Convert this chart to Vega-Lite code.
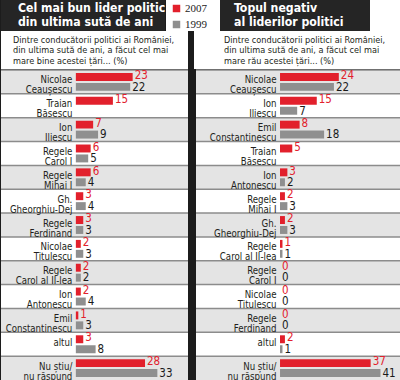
{
  "$schema": "https://vega.github.io/schema/vega-lite/v6.json",
  "background": "#1c1c1c",
  "padding": 0,
  "spacing": 0,
  "config": {
    "view": {"fill": "white", "stroke": null},
    "font": "DejaVu Sans Condensed, sans-serif",
    "concat": {"spacing": 0},
    "title": {"anchor": "start", "orient": "top", "baseline": "top"},
    "legend": {
      "orient": "none", "legendX": 170, "legendY": 3, "title": null, "padding": 0,
      "symbolType": "square", "symbolSize": 56, "symbolStrokeWidth": 0, "symbolOpacity": 1,
      "labelFont": "Liberation Serif", "labelFontSize": 11, "labelColor": "#222", "rowPadding": 4, "labelOffset": 3
    }
  },
  "vconcat": [
    {
      "spacing": 0,
      "hconcat": [
        {
          "width": 164, "height": 31,
          "view": {"fill": "#252525", "stroke": null},
          "data": {"values": [{}]},
          "mark": "text",
          "encoding": {"text": {"value": ""}},
          "title": {"text": ["Cel mai bun lider politic", "din ultima sută de ani"], "color": "white", "fontSize": 12.2, "fontWeight": "bold", "lineHeight": 14, "dx": 17, "offset": -28}
        },
        {
          "width": 54, "height": 31,
          "view": {"fill": "white", "stroke": null},
          "data": {"values": [{}]},
          "mark": "text",
          "encoding": {"text": {"value": ""}}
        },
        {
          "width": 150, "height": 31,
          "view": {"fill": "#252525", "stroke": null},
          "data": {"values": [{}]},
          "mark": "text",
          "encoding": {"text": {"value": ""}},
          "title": {"text": ["Topul negativ", "al liderilor politici"], "color": "white", "fontSize": 12.2, "fontWeight": "bold", "lineHeight": 14, "dx": 14, "offset": -28}
        },
        {
          "width": 32, "height": 31,
          "view": {"fill": "white", "stroke": null},
          "data": {"values": [{}]},
          "mark": "text",
          "encoding": {"text": {"value": ""}}
        }
      ]
    },
    {
      "spacing": 6,
      "hconcat": [
        {
          "width": 187, "height": 38,
          "view": {"fill": "white", "stroke": null},
          "data": {"values": [{}]},
          "mark": "text",
          "encoding": {"text": {"value": ""}},
          "title": {"text": ["Dintre conducătorii politici ai României,", "din ultima sută de ani, a făcut cel mai", "mare bine acestei țări... (%)"], "color": "#231f20", "fontSize": 9.1, "fontWeight": "normal", "lineHeight": 10.5, "dx": 12, "offset": -35}
        },
        {
          "width": 207, "height": 38,
          "view": {"fill": "white", "stroke": null},
          "data": {"values": [{}]},
          "mark": "text",
          "encoding": {"text": {"value": ""}},
          "title": {"text": ["Dintre conducătorii politici ai României,", "din ultima sută de ani, a făcut cel mai", "mare rău acestei țări... (%)"], "color": "#231f20", "fontSize": 9.1, "fontWeight": "normal", "lineHeight": 10.5, "dx": 30, "offset": -35}
        }
      ]
    },
    {
      "spacing": 6,
      "hconcat": [
        {
          "width": 187, "height": 310,
          "view": {"fill": "white", "stroke": null},
          "data": {"values": [
            {"rank": 1, "label": "Nicolae\nCeaușescu", "year": "2007", "value": 23},
            {"rank": 1, "label": "Nicolae\nCeaușescu", "year": "1999", "value": 22},
            {"rank": 2, "label": "Traian\nBăsescu", "year": "2007", "value": 15},
            {"rank": 3, "label": "Ion\nIliescu", "year": "2007", "value": 7},
            {"rank": 3, "label": "Ion\nIliescu", "year": "1999", "value": 9},
            {"rank": 4, "label": "Regele\nCarol I", "year": "2007", "value": 6},
            {"rank": 4, "label": "Regele\nCarol I", "year": "1999", "value": 5},
            {"rank": 5, "label": "Regele\nMihai I", "year": "2007", "value": 6},
            {"rank": 5, "label": "Regele\nMihai I", "year": "1999", "value": 4},
            {"rank": 6, "label": "Gh.\nGheorghiu-Dej", "year": "2007", "value": 3},
            {"rank": 6, "label": "Gh.\nGheorghiu-Dej", "year": "1999", "value": 4},
            {"rank": 7, "label": "Regele\nFerdinand", "year": "2007", "value": 3},
            {"rank": 7, "label": "Regele\nFerdinand", "year": "1999", "value": 3},
            {"rank": 8, "label": "Nicolae\nTitulescu", "year": "2007", "value": 2},
            {"rank": 8, "label": "Nicolae\nTitulescu", "year": "1999", "value": 3},
            {"rank": 9, "label": "Regele\nCarol al II-lea", "year": "2007", "value": 2},
            {"rank": 9, "label": "Regele\nCarol al II-lea", "year": "1999", "value": 2},
            {"rank": 10, "label": "Ion\nAntonescu", "year": "2007", "value": 2},
            {"rank": 10, "label": "Ion\nAntonescu", "year": "1999", "value": 4},
            {"rank": 11, "label": "Emil\nConstantinescu", "year": "2007", "value": 1},
            {"rank": 11, "label": "Emil\nConstantinescu", "year": "1999", "value": 3},
            {"rank": 12, "label": "altul", "year": "2007", "value": 3},
            {"rank": 12, "label": "altul", "year": "1999", "value": 8},
            {"rank": 13, "label": "Nu știu/\nnu răspund", "year": "2007", "value": 28},
            {"rank": 13, "label": "Nu știu/\nnu răspund", "year": "1999", "value": 33}
          ]},
          "encoding": {"y": {"field": "rank", "type": "ordinal", "axis": null, "scale": {"paddingInner": 0, "paddingOuter": 0}}},
          "layer": [
            {
              "transform": [{"filter": "datum.year === '2007'"}],
              "mark": {"type": "rect"},
              "encoding": {"fill": {"condition": {"test": "datum.rank % 2 === 1", "value": "#e4e4e4"}, "value": "#ffffff"}}
            },
            {
              "transform": [{"filter": "datum.year === '2007'"}],
              "mark": {"type": "rule", "color": "#8c8c8c", "strokeWidth": 1.5},
              "encoding": {"y": {"field": "rank", "type": "ordinal", "bandPosition": 0, "axis": null}}
            },
            {
              "mark": {"type": "bar"},
              "encoding": {
                "x": {"field": "value", "type": "quantitative", "stack": null, "axis": null, "scale": {"domain": [-30.3, 45.4], "nice": false}},
                "yOffset": {"field": "year", "type": "nominal", "scale": {"domain": ["2007", "1999"], "paddingInner": 0.2, "paddingOuter": 0.3}},
                "color": {"field": "year", "type": "nominal", "scale": {"domain": ["2007", "1999"], "range": ["#e2202c", "#8f8f8f"]}}
              }
            },
            {
              "transform": [{"filter": "datum.year === '2007'"}],
              "mark": {"type": "text", "align": "left", "baseline": "middle", "dx": 2, "dy": -0.8, "fontSize": 11.5, "color": "#e2202c"},
              "encoding": {
                "x": {"field": "value", "type": "quantitative", "axis": null, "scale": {"domain": [-30.3, 45.4], "nice": false}},
                "yOffset": {"field": "year", "type": "nominal", "scale": {"domain": ["2007", "1999"], "paddingInner": 0.2, "paddingOuter": 0.3}},
                "text": {"field": "value", "type": "quantitative"}
              }
            },
            {
              "transform": [{"filter": "datum.year === '1999'"}],
              "mark": {"type": "text", "align": "left", "baseline": "middle", "dx": 2, "dy": 0.8, "fontSize": 11.5, "color": "#1a1a1a"},
              "encoding": {
                "x": {"field": "value", "type": "quantitative", "axis": null, "scale": {"domain": [-30.3, 45.4], "nice": false}},
                "yOffset": {"field": "year", "type": "nominal", "scale": {"domain": ["2007", "1999"], "paddingInner": 0.2, "paddingOuter": 0.3}},
                "text": {"field": "value", "type": "quantitative"}
              }
            },
            {
              "transform": [{"filter": "datum.year === '2007'"}],
              "mark": {"type": "text", "align": "right", "baseline": "middle", "dx": -3.5, "dy": -1.5, "fontSize": 9.6, "lineBreak": "\n", "lineHeight": 10, "color": "#231f20"},
              "encoding": {
                "x": {"datum": 0, "type": "quantitative", "axis": null, "scale": {"domain": [-30.3, 45.4], "nice": false}},
                "text": {"field": "label"}
              }
            }
          ]
        },
        {
          "width": 207, "height": 310,
          "view": {"fill": "white", "stroke": null},
          "data": {"values": [
            {"rank": 1, "label": "Nicolae\nCeaușescu", "year": "2007", "value": 24},
            {"rank": 1, "label": "Nicolae\nCeaușescu", "year": "1999", "value": 22},
            {"rank": 2, "label": "Ion\nIliescu", "year": "2007", "value": 15},
            {"rank": 2, "label": "Ion\nIliescu", "year": "1999", "value": 7},
            {"rank": 3, "label": "Emil\nConstantinescu", "year": "2007", "value": 8},
            {"rank": 3, "label": "Emil\nConstantinescu", "year": "1999", "value": 18},
            {"rank": 4, "label": "Traian\nBăsescu", "year": "2007", "value": 5},
            {"rank": 5, "label": "Ion\nAntonescu", "year": "2007", "value": 3},
            {"rank": 5, "label": "Ion\nAntonescu", "year": "1999", "value": 2},
            {"rank": 6, "label": "Regele\nMihai I", "year": "2007", "value": 2},
            {"rank": 6, "label": "Regele\nMihai I", "year": "1999", "value": 3},
            {"rank": 7, "label": "Gh.\nGheorghiu-Dej", "year": "2007", "value": 2},
            {"rank": 7, "label": "Gh.\nGheorghiu-Dej", "year": "1999", "value": 3},
            {"rank": 8, "label": "Regele\nCarol al II-lea", "year": "2007", "value": 1},
            {"rank": 8, "label": "Regele\nCarol al II-lea", "year": "1999", "value": 1},
            {"rank": 9, "label": "Regele\nCarol I", "year": "2007", "value": 0},
            {"rank": 9, "label": "Regele\nCarol I", "year": "1999", "value": 0},
            {"rank": 10, "label": "Nicolae\nTitulescu", "year": "2007", "value": 0},
            {"rank": 10, "label": "Nicolae\nTitulescu", "year": "1999", "value": 0},
            {"rank": 11, "label": "Regele\nFerdinand", "year": "2007", "value": 0},
            {"rank": 11, "label": "Regele\nFerdinand", "year": "1999", "value": 0},
            {"rank": 12, "label": "altul", "year": "2007", "value": 2},
            {"rank": 12, "label": "altul", "year": "1999", "value": 1},
            {"rank": 13, "label": "Nu știu/\nnu răspund", "year": "2007", "value": 37},
            {"rank": 13, "label": "Nu știu/\nnu răspund", "year": "1999", "value": 41}
          ]},
          "encoding": {"y": {"field": "rank", "type": "ordinal", "axis": null, "scale": {"paddingInner": 0, "paddingOuter": 0}}},
          "layer": [
            {
              "transform": [{"filter": "datum.year === '2007'"}],
              "mark": {"type": "rect"},
              "encoding": {"fill": {"condition": {"test": "datum.rank % 2 === 1", "value": "#e4e4e4"}, "value": "#ffffff"}}
            },
            {
              "transform": [{"filter": "datum.year === '2007'"}],
              "mark": {"type": "rule", "color": "#8c8c8c", "strokeWidth": 1.5},
              "encoding": {"y": {"field": "rank", "type": "ordinal", "bandPosition": 0, "axis": null}}
            },
            {
              "mark": {"type": "bar"},
              "encoding": {
                "x": {"field": "value", "type": "quantitative", "stack": null, "axis": null, "scale": {"domain": [-34.3, 50.2], "nice": false}},
                "yOffset": {"field": "year", "type": "nominal", "scale": {"domain": ["2007", "1999"], "paddingInner": 0.2, "paddingOuter": 0.3}},
                "color": {"field": "year", "type": "nominal", "scale": {"domain": ["2007", "1999"], "range": ["#e2202c", "#8f8f8f"]}}
              }
            },
            {
              "transform": [{"filter": "datum.year === '2007'"}],
              "mark": {"type": "text", "align": "left", "baseline": "middle", "dx": 2, "dy": -0.8, "fontSize": 11.5, "color": "#e2202c"},
              "encoding": {
                "x": {"field": "value", "type": "quantitative", "axis": null, "scale": {"domain": [-34.3, 50.2], "nice": false}},
                "yOffset": {"field": "year", "type": "nominal", "scale": {"domain": ["2007", "1999"], "paddingInner": 0.2, "paddingOuter": 0.3}},
                "text": {"field": "value", "type": "quantitative"}
              }
            },
            {
              "transform": [{"filter": "datum.year === '1999'"}],
              "mark": {"type": "text", "align": "left", "baseline": "middle", "dx": 2, "dy": 0.8, "fontSize": 11.5, "color": "#1a1a1a"},
              "encoding": {
                "x": {"field": "value", "type": "quantitative", "axis": null, "scale": {"domain": [-34.3, 50.2], "nice": false}},
                "yOffset": {"field": "year", "type": "nominal", "scale": {"domain": ["2007", "1999"], "paddingInner": 0.2, "paddingOuter": 0.3}},
                "text": {"field": "value", "type": "quantitative"}
              }
            },
            {
              "transform": [{"filter": "datum.year === '2007'"}],
              "mark": {"type": "text", "align": "right", "baseline": "middle", "dx": -3.5, "dy": -1.5, "fontSize": 9.6, "lineBreak": "\n", "lineHeight": 10, "color": "#231f20"},
              "encoding": {
                "x": {"datum": 0, "type": "quantitative", "axis": null, "scale": {"domain": [-34.3, 50.2], "nice": false}},
                "text": {"field": "label"}
              }
            }
          ]
        }
      ]
    }
  ]
}
